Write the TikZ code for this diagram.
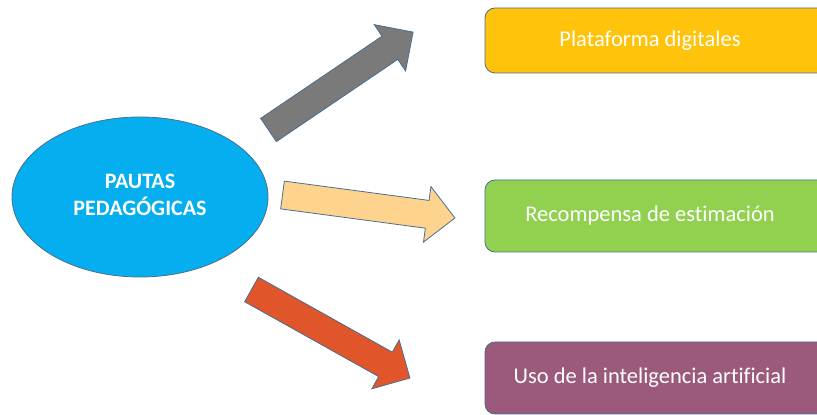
\documentclass[tikz,border=0pt]{standalone}
\usepackage{fontspec}
\setmainfont{Carlito}[Ligatures=NoCommon]
\usetikzlibrary{shapes.geometric}
\definecolor{skyb}{HTML}{05AFEF}
\definecolor{edgeb}{HTML}{4A6E8E}
\definecolor{yel}{HTML}{FFC30B}
\definecolor{grn}{HTML}{92D050}
\definecolor{plum}{HTML}{9B5A7C}
\definecolor{grayarr}{HTML}{7A7A7A}
\definecolor{peach}{HTML}{FED38E}
\definecolor{orng}{HTML}{E0552A}
\newcommand\blockarrow[4]{%
  \draw[arrowbody, fill=#1, shift={#2}, rotate=#3]
    (0,-14) -- ({#4-28},-14) -- ({#4-28},-28) -- (#4,0) -- ({#4-28},28) -- ({#4-28},14) -- (0,14) -- cycle;}
\begin{document}
\begin{tikzpicture}[x=1pt,y=1pt,
  arrowbody/.style={draw=edgeb, line width=0.8pt, line join=miter},
  hub/.style={ellipse, draw=edgeb, line width=0.8pt, fill=skyb, minimum width=256pt, minimum height=160pt, inner sep=0pt,
     text=white, font=\fontsize{22}{27}\selectfont\bfseries},
  topic/.style={rectangle, rounded corners=10pt, draw=edgeb, line width=0.8pt, minimum width=350pt, inner sep=0pt,
     text=white, font=\fontsize{22.5}{27}\selectfont}]
\useasboundingbox (0,0) rectangle (817,415);
\clip (0,0) rectangle (817,415);
\node[hub] (hub) at (140,218) {\raisebox{4pt}{\begin{tabular}{@{}c@{}}PAUTAS\\PEDAGÓGICAS\end{tabular}}};
\node[topic, fill=yel, minimum height=65pt] (t1) at (660,374.5) {Plataforma digitales\kern20pt};
\node[topic, fill=grn, minimum height=72pt] (t2) at (660,199) {Recompensa de estimación\kern20pt};
\node[topic, fill=plum, minimum height=72pt] (t3) at (660,37) {Uso de la inteligencia artificial\kern20pt};
\blockarrow{grayarr}{(268.5,285)}{34.1}{174.6}
\blockarrow{peach}{(282.5,220)}{-7.6}{174}
\blockarrow{orng}{(251.5,125.5)}{-29.2}{181.5}
\end{tikzpicture}
\end{document}
